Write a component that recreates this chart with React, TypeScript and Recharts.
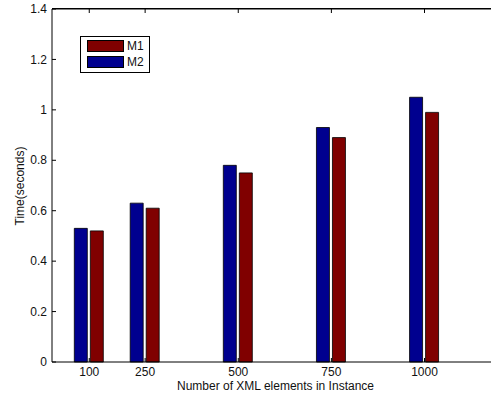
import { BarChart, Bar, XAxis, YAxis, Legend } from "recharts";

// instance sizes (number of XML elements) and run times in seconds
const sizes = [100, 250, 500, 750, 1000];
const m1Times = [0.52, 0.61, 0.75, 0.89, 0.99];
const m2Times = [0.53, 0.63, 0.78, 0.93, 1.05];
const xTicks = [100, 250, 500, 750, 1000];
const yTicks = [0, 0.2, 0.4, 0.6, 0.8, 1, 1.2, 1.4];
const yMax = 1.4;

const data = sizes.map((n, i) => ({ n, M1: m1Times[i], M2: m2Times[i] }));

const font = "'Liberation Sans', Arial, Helvetica, sans-serif";
const colors: Record<string, string> = { M1: "#800000", M2: "#00008f" };

const W = 520;
const H = 398;
const M = { top: 9, right: 21, bottom: 0, left: 0 };
const Y_W = 52;
const X_H = 36;
const PLOT_W = W - M.left - M.right - Y_W;
const PLOT_H = H - M.top - M.bottom - X_H;

// bottom tick + matching inward tick on the top edge of the box (MATLAB style)
const BottomTick = (props: any) => {
  const { x, y, payload } = props;
  const top = y - PLOT_H;
  return (
    <g>
      <line x1={x} y1={y} x2={x} y2={y - 4} stroke="#000" />
      <line x1={x} y1={top} x2={x} y2={top + 4} stroke="#000" />
      <text x={x} y={y + 14} textAnchor="middle" fontSize={12} fill="#111" fontFamily={font}>
        {payload.value}
      </text>
    </g>
  );
};

const LeftTick = (props: any) => {
  const { x, y, payload } = props;
  return (
    <g>
      <line x1={x} y1={y} x2={x + 4} y2={y} stroke="#000" />
      {payload.value === yMax && <line x1={x} y1={y} x2={x + PLOT_W} y2={y} stroke="#000" />}
      <text x={x - 5} y={y} dy="0.35em" textAnchor="end" fontSize={12} fill="#111" fontFamily={font}>
        {String(payload.value)}
      </text>
    </g>
  );
};

const renderLegend = (props: any) => {
  const items = [...(props.payload || [])].sort((a: any, b: any) =>
    String(a.value).localeCompare(String(b.value))
  );
  return (
    <div
      style={{
        boxSizing: "border-box",
        width: 70,
        height: 37,
        border: "1px solid #000",
        background: "#fff",
        padding: "3px 0 0 6px",
        fontFamily: font,
      }}
    >
      {items.map((it: any) => (
        <div key={it.value} style={{ display: "flex", alignItems: "center", height: 12, marginBottom: 4 }}>
          <div
            style={{
              boxSizing: "border-box",
              width: 37,
              height: 12,
              border: "1px solid #000",
              background: colors[it.value],
            }}
          />
          <span style={{ marginLeft: 3, fontSize: 12, color: "#111" }}>{it.value}</span>
        </div>
      ))}
    </div>
  );
};

export default function App() {
  return (
    <div
      style={{
        position: "fixed",
        left: 0,
        top: 0,
        width: 491,
        height: 398,
        overflow: "hidden",
        background: "#fff",
        fontFamily: font,
      }}
    >
      <BarChart width={W} height={H} data={data} margin={M} barGap={3}>
        <XAxis
          dataKey="n"
          type="number"
          domain={[0, 1200]}
          ticks={xTicks}
          height={X_H}
          stroke="#000"
          tickSize={0}
          tickMargin={0}
          tickLine={false}
          tick={BottomTick}
          label={{
            value: "Number of XML elements in Instance",
            position: "insideBottom",
            offset: 8,
            fontSize: 12,
            fill: "#111",
            fontFamily: font,
          }}
        />
        <YAxis
          type="number"
          domain={[0, yMax]}
          ticks={yTicks}
          width={Y_W}
          stroke="#000"
          tickSize={0}
          tickMargin={0}
          tickLine={false}
          tick={LeftTick}
          label={{
            content: () => (
              <text
                x={20}
                y={186}
                transform="rotate(-90 20 186)"
                textAnchor="middle"
                dominantBaseline="central"
                fontSize={12}
                fill="#111"
                fontFamily={font}
              >
                Time(seconds)
              </text>
            ),
          }}
        />
        <Legend
          layout="vertical"
          align="center"
          verticalAlign="middle"
          wrapperStyle={{ left: 80, top: 36 }}
          content={renderLegend}
        />
        <Bar dataKey="M2" name="M2" fill={colors.M2} stroke="#000" strokeWidth={0.8} barSize={13} isAnimationActive={false} />
        <Bar dataKey="M1" name="M1" fill={colors.M1} stroke="#000" strokeWidth={0.8} barSize={13} isAnimationActive={false} />
      </BarChart>
      {/* top edge of the axes box */}
      <div
        style={{
          position: "absolute",
          left: M.left + Y_W,
          top: M.top - 1,
          width: PLOT_W,
          height: 0,
          borderTop: "1px solid #000",
          zIndex: 5,
          pointerEvents: "none",
        }}
      />
    </div>
  );
}
